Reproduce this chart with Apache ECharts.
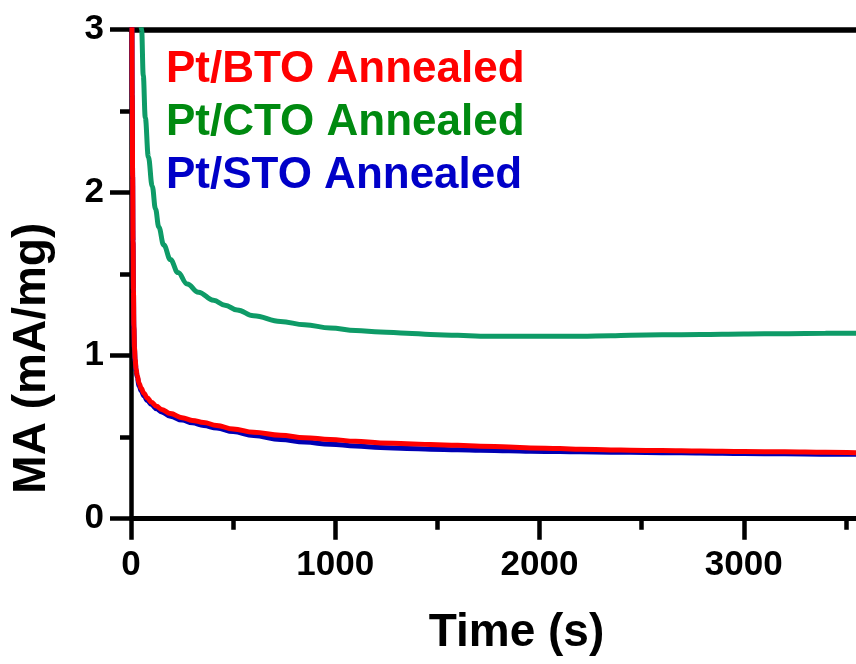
<!DOCTYPE html>
<html>
<head>
<meta charset="utf-8">
<title>MA vs Time</title>
<script src="https://cdn.jsdelivr.net/npm/echarts@6/dist/echarts.min.js"></script>
<style>
  html, body { margin: 0; padding: 0; background: #ffffff; }
  #chart { width: 856px; height: 664px; }
</style>
</head>
<body>
<div id="chart"></div>
<script>
// Chronoamperometry: mass activity (mA/mg) over time (s) for three annealed catalysts
const seriesNames = ['Pt/BTO Annealed', 'Pt/CTO Annealed', 'Pt/STO Annealed'];

const timeBTO = [0, 2, 4, 6, 8, 10, 12, 14, 17, 20, 25, 30, 40, 50, 63, 80, 100, 125, 150, 193, 250, 300, 356, 420, 500, 600, 732, 850, 976, 1100, 1221, 1350, 1466, 1600, 1711, 1850, 1956, 2100, 2200, 2350, 2445, 2600, 2788, 3000, 3200, 3400, 3550];
const maBTO = [4.8, 3.9, 3.2, 2.6, 2.1, 1.7, 1.4, 1.18, 1.05, 0.98, 0.92, 0.88, 0.83, 0.80, 0.77, 0.74, 0.715, 0.69, 0.67, 0.645, 0.62, 0.603, 0.59, 0.572, 0.55, 0.53, 0.512, 0.497, 0.486, 0.475, 0.465, 0.46, 0.455, 0.45, 0.445, 0.44, 0.434, 0.43, 0.426, 0.422, 0.42, 0.418, 0.415, 0.412, 0.41, 0.407, 0.405];

const timeSTO = [0, 2, 4, 6, 8, 10, 12, 14, 17, 20, 25, 30, 40, 50, 63, 80, 100, 125, 150, 193, 250, 300, 356, 420, 500, 600, 732, 850, 976, 1100, 1221, 1350, 1466, 1600, 1711, 1850, 1956, 2100, 2200, 2350, 2445, 2600, 2788, 3000, 3200, 3400, 3550];
const maSTO = [4.8, 3.9, 3.2, 2.6, 2.1, 1.7, 1.4, 1.17, 1.04, 0.97, 0.91, 0.87, 0.815, 0.785, 0.755, 0.725, 0.70, 0.675, 0.655, 0.628, 0.605, 0.588, 0.572, 0.556, 0.535, 0.51, 0.486, 0.47, 0.457, 0.446, 0.437, 0.431, 0.426, 0.423, 0.42, 0.417, 0.414, 0.412, 0.41, 0.408, 0.407, 0.405, 0.403, 0.40, 0.398, 0.396, 0.395];

const timeCTO = [0, 20, 35, 52, 60, 70, 85, 104, 120, 136, 160, 193, 230, 275, 330, 404, 460, 520, 600, 732, 850, 976, 1100, 1221, 1350, 1466, 1600, 1711, 1850, 1956, 2100, 2200, 2350, 2445, 2600, 2788, 3000, 3200, 3400, 3550];
const maCTO = [9.0, 4.2, 3.4, 3.0, 2.72, 2.46, 2.22, 2.04, 1.9, 1.79, 1.68, 1.59, 1.51, 1.44, 1.39, 1.34, 1.31, 1.28, 1.245, 1.21, 1.19, 1.17, 1.155, 1.146, 1.138, 1.13, 1.125, 1.12, 1.12, 1.12, 1.12, 1.12, 1.123, 1.126, 1.128, 1.13, 1.133, 1.135, 1.137, 1.138];

const xTicks = { min: 0, max: 4000, interval: 1000 };
const yTicks = { min: 0, max: 3, interval: 1 };

const lineColors = { bto: '#ff0000', cto: '#0e9b67', sto: '#0000b4' };
const textColors = { bto: '#ff0000', cto: '#008a10', sto: '#0000c8' };

function pairs(xs, ys) {
  return xs.map((x, i) => [x, ys[i]]);
}

const FONT = "'Liberation Sans', Arial, Helvetica, sans-serif";

const chart = echarts.init(document.getElementById('chart'), null, { renderer: 'canvas' });

const lineSeries = (name, xs, ys, color) => ({
  name: name,
  type: 'line',
  xAxisIndex: 0,
  yAxisIndex: 0,
  data: pairs(xs, ys),
  showSymbol: false,
  symbol: 'none',
  smooth: 0.4,
  smoothMonotone: 'x',
  clip: true,
  lineStyle: { color: color, width: 5 },
  itemStyle: { color: color },
  emphasis: { disabled: true }
});

chart.setOption({
  animation: false,
  backgroundColor: '#ffffff',
  // the time axis runs past the right edge of the canvas, so only 0–~3550 s is visible
  grid: { left: 131, top: 29.7, right: -92, bottom: 145.3, containLabel: false, outerBoundsMode: 'none' },
  legend: {
    orient: 'vertical',
    left: 156,
    top: 43,
    icon: 'none',
    itemWidth: 0,
    itemHeight: 14,
    itemGap: 9,
    selectedMode: false,
    textStyle: { fontFamily: FONT, fontWeight: 'bold', fontSize: 44, lineHeight: 44 },
    data: [
      { name: seriesNames[0], textStyle: { color: textColors.bto } },
      { name: seriesNames[1], textStyle: { color: textColors.cto } },
      { name: seriesNames[2], textStyle: { color: textColors.sto } }
    ]
  },
  xAxis: [
    {
      type: 'value',
      position: 'bottom',
      min: xTicks.min,
      max: xTicks.max,
      interval: xTicks.interval,
      name: 'Time (s)',
      nameLocation: 'middle',
      nameGap: 92,
      nameTextStyle: { fontFamily: FONT, fontWeight: 'bold', fontSize: 46, color: '#000', padding: [0, 46, 0, 0] },
      axisLine: { show: true, onZero: false, lineStyle: { color: '#000', width: 5 } },
      axisTick: { show: true, inside: false, length: 21, lineStyle: { color: '#000', width: 4.5 } },
      minorTick: { show: true, splitNumber: 2, length: 11, lineStyle: { color: '#000', width: 4.5 } },
      axisLabel: { show: true, margin: 29, fontFamily: FONT, fontWeight: 'bold', fontSize: 35, color: '#000', formatter: v => String(v) },
      splitLine: { show: false },
      minorSplitLine: { show: false }
    },
    {
      type: 'value',
      position: 'top',
      min: xTicks.min,
      max: xTicks.max,
      axisLine: { show: true, onZero: false, lineStyle: { color: '#000', width: 5.5 } },
      axisTick: { show: false },
      axisLabel: { show: false },
      splitLine: { show: false }
    }
  ],
  yAxis: {
    type: 'value',
    min: yTicks.min,
    max: yTicks.max,
    interval: yTicks.interval,
    name: 'MA (mA/mg)',
    nameLocation: 'middle',
    nameGap: 76,
    nameRotate: 90,
    nameTextStyle: { fontFamily: FONT, fontWeight: 'bold', fontSize: 46, color: '#000', padding: [0, 168, 0, 0] },
    axisLine: { show: true, onZero: false, lineStyle: { color: '#000', width: 4.5 } },
    axisTick: { show: true, inside: false, length: 21, lineStyle: { color: '#000', width: 4.5 } },
    minorTick: { show: true, splitNumber: 2, length: 11, lineStyle: { color: '#000', width: 4.5 } },
    axisLabel: { show: true, margin: 27, fontFamily: FONT, fontWeight: 'bold', fontSize: 35, color: '#000', formatter: v => String(v) },
    splitLine: { show: false },
    minorSplitLine: { show: false }
  },
  series: [
    lineSeries(seriesNames[2], timeSTO, maSTO, lineColors.sto),
    lineSeries(seriesNames[1], timeCTO, maCTO, lineColors.cto),
    lineSeries(seriesNames[0], timeBTO, maBTO, lineColors.bto)
  ]
});
</script>
</body>
</html>
